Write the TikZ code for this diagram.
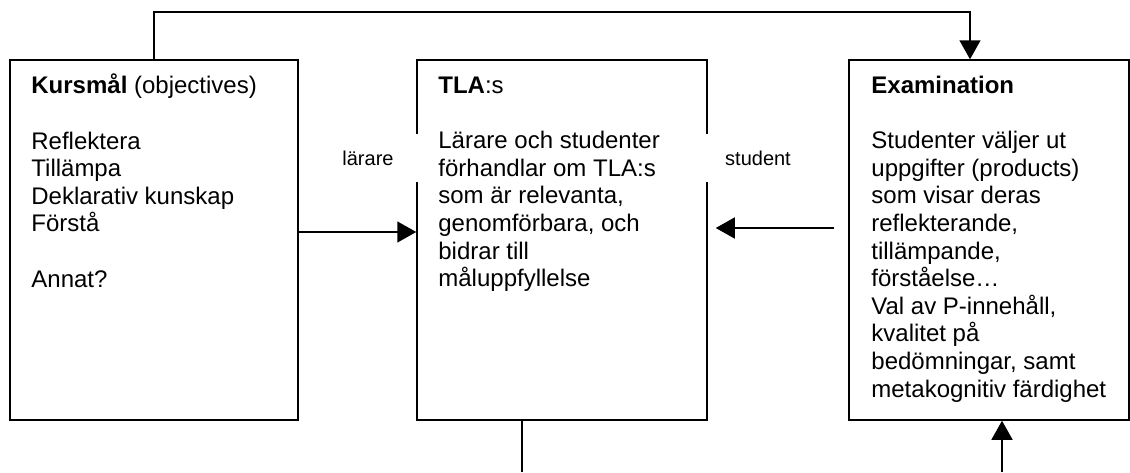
\documentclass[tikz,border=0pt]{standalone}
\usepackage{fontspec}
\setmainfont{Liberation Sans}
\usetikzlibrary{arrows.meta,calc}
\begin{document}
\begin{tikzpicture}[x=0.5pt,y=-0.5pt,
  box/.style={draw,line width=0.75pt,rectangle,inner sep=0pt,minimum height=180pt},
  txt/.style={anchor=north west,inner sep=0pt,align=left,font=\fontsize{12}{13.8}\selectfont},
  lbl/.style={fill=white,inner sep=0pt,minimum width=54pt,minimum height=24pt,font=\fontsize{10}{12}\selectfont},
  con/.style={line width=0.75pt},
  arr/.style={con,-{Triangle[length=9.5pt,width=10.5pt]}}]
\useasboundingbox (0,0) rectangle (1130,472);
% boxes
\node[box,minimum width=144pt] (k) at (154,240) {};
\node[box,minimum width=145pt] (t) at (562,240) {};
\node[box,minimum width=140pt] (e) at (989,240) {};
% texts
\node[txt] (kt) at (31,73.7) {\strut\textbf{Kursmål} (objectives)\\ \\Reflektera\\Tillämpa\\Deklarativ kunskap\\Förstå\\ \\Annat?};
\node[txt] (tt) at (438,73.7) {\strut\textbf{TLA}:s\\ \\Lärare och studenter\\förhandlar om TLA:s\\som är relevanta,\\genomförbara, och\\bidrar till\\måluppfyllelse};
\node[txt] (et) at (871,73.7) {\strut\textbf{Examination}\\ \\Studenter väljer ut\\uppgifter (products)\\som visar deras\\reflekterande,\\tillämpande,\\förståelse…\\Val av P-innehåll,\\kvalitet på\\bedömningar, samt\\metakognitiv färdighet};
% labels
\node[lbl] (l1) at (368,158) {lärare};
\node[lbl] (l2) at (758,158) {student};
% connectors
\coordinate (t1) at (154,12);
\coordinate (t2) at (970,12);
\draw[arr] (k.north) -- (t1) -- (t2) -- (t2 |- e.north);
\draw[arr] ($(k.east)+(0,-8)$) -- ($(t.west)+(0,-8)$);
\coordinate (s0) at (834,228);
\draw[arr] (s0) -- ($(t.east |- s0)+(8,0)$);
\coordinate (b1) at (522,472);
\draw[con] (b1 |- t.south) -- (b1);
\coordinate (b2) at (1002,472);
\draw[arr] (b2) -- (b2 |- e.south);
\end{tikzpicture}
\end{document}
